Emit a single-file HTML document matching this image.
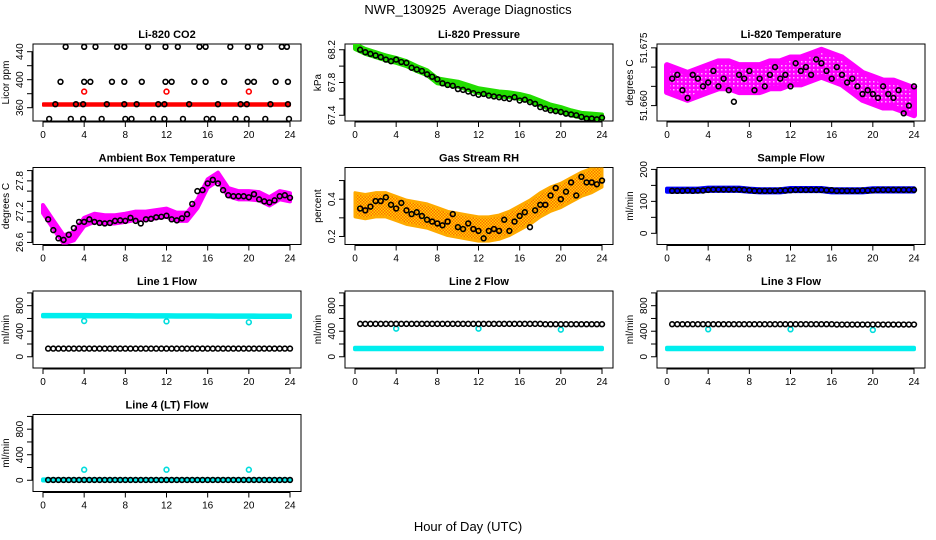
<!DOCTYPE html>
<html><head><meta charset="utf-8">
<style>
html,body{margin:0;padding:0;background:#fff;}
svg{display:block;font-family:"Liberation Sans",sans-serif;}
</style></head>
<body>
<svg id="chart" width="936" height="540" viewBox="0 0 936 540" xmlns="http://www.w3.org/2000/svg">
<text x="468" y="14" text-anchor="middle" font-size="13" style="white-space:pre">NWR_130925&#160; Average Diagnostics</text>
<text x="468" y="531" text-anchor="middle" font-size="13">Hour of Day (UTC)</text>
</svg>
<script>
// ---------- data ----------
const hours48 = [0.5,1,1.5,2,2.5,3,3.5,4,4.5,5,5.5,6,6.5,7,7.5,8,8.5,9,9.5,10,10.5,11,11.5,12,12.5,13,13.5,14,14.5,15,15.5,16,16.5,17,17.5,18,18.5,19,19.5,20,20.5,21,21.5,22,22.5,23,23.5,24];
const hours25 = [0,1,2,3,4,5,6,7,8,9,10,11,12,13,14,15,16,17,18,19,20,21,22,23,24];
const xTicks = [0,4,8,12,16,20,24];
const outlierHours = [4,12,20];

// CO2
const co2BandHours = [0,24];
const co2BandMid = [364.5,364.5];
const co2Spread = 1.8;
const co2RedOutliers = [383,383,383];
const co2Hours447 = [2.2,4.0,5.1,7.2,7.9,10.2,11.9,13.1,15.2,15.8,18.2,19.9,21.1,23.2,23.7];
const co2Hours397 = [1.7,4.0,4.6,6.7,7.9,9.6,11.9,12.5,14.7,15.8,17.6,19.9,20.5,22.6,23.8];
const co2Hours365 = [1.2,3.2,3.9,6.2,7.9,9.1,11.2,11.8,14.2,17.0,19.2,19.8,22.1,23.8];
const co2Hours344 = [0.6,2.7,3.9,5.7,8.0,8.6,10.7,11.8,13.6,15.9,16.5,18.7,19.8,21.6,23.9];
const co2Levels = [447,397,365,344];

// Pressure
const pressMid = [68.24,68.18,68.14,68.10,68.07,68.03,67.97,67.92,67.82,67.80,67.78,67.74,67.70,67.68,67.66,67.65,67.63,67.60,67.55,67.50,67.47,67.43,67.40,67.39,67.38];
const pressSpread = 0.03;
const pressBlack = [68.20,68.17,68.15,68.13,68.11,68.08,68.06,68.08,68.05,68.04,67.98,67.96,67.94,67.90,67.87,67.84,67.79,67.77,67.76,67.72,67.71,67.69,67.67,67.65,67.66,67.64,67.63,67.62,67.61,67.60,67.62,67.58,67.59,67.56,67.54,67.50,67.48,67.46,67.45,67.44,67.42,67.41,67.40,67.38,67.36,67.36,67.35,67.37];

// Li-820 temperature
const tempMid = [51.667,51.666,51.665,51.666,51.667,51.668,51.668,51.667,51.667,51.667,51.668,51.668,51.669,51.669,51.670,51.671,51.670,51.669,51.667,51.665,51.664,51.663,51.663,51.662,51.661];
const tempSpread = 0.0035;
const tempBlack = [51.667,51.668,51.664,51.662,51.668,51.667,51.665,51.666,51.669,51.665,51.667,51.664,51.661,51.668,51.667,51.669,51.664,51.667,51.665,51.668,51.670,51.667,51.668,51.665,51.671,51.669,51.670,51.668,51.672,51.671,51.669,51.667,51.670,51.668,51.666,51.667,51.665,51.663,51.664,51.663,51.662,51.665,51.663,51.662,51.664,51.658,51.660,51.665];

// Ambient box temperature
const ambMid = [27.25,26.95,26.66,26.72,27.0,27.08,27.05,27.05,27.08,27.12,27.12,27.15,27.18,27.10,27.10,27.35,27.75,27.88,27.58,27.52,27.52,27.50,27.40,27.52,27.48];
const ambSpread = 0.08;
const ambBlack = [27.05,26.84,26.68,26.65,26.75,26.88,27.0,27.0,27.05,27.0,26.98,26.97,26.98,27.02,27.03,27.02,27.08,27.02,26.97,27.05,27.06,27.09,27.10,27.12,27.05,27.03,27.07,27.15,27.35,27.6,27.62,27.75,27.82,27.75,27.62,27.52,27.50,27.50,27.50,27.48,27.54,27.44,27.40,27.38,27.42,27.5,27.52,27.47];

// Gas stream RH
const rhMid = [0.37,0.36,0.37,0.37,0.35,0.33,0.32,0.31,0.29,0.27,0.26,0.25,0.24,0.24,0.25,0.27,0.30,0.33,0.37,0.40,0.42,0.45,0.48,0.50,0.53];
const rhSpread = 0.065;
const rhBlack = [0.35,0.34,0.36,0.39,0.39,0.41,0.37,0.35,0.38,0.34,0.32,0.33,0.31,0.29,0.28,0.27,0.26,0.28,0.32,0.25,0.24,0.27,0.24,0.23,0.19,0.23,0.24,0.23,0.29,0.23,0.28,0.31,0.33,0.25,0.34,0.37,0.37,0.42,0.46,0.40,0.44,0.49,0.42,0.52,0.49,0.49,0.48,0.50];

// Sample flow
const sampleMid = [135,135,135,135,138,138,138,138,135,133,133,133,137,137,137,137,133,133,133,133,136,136,136,136,136];
const sampleSpread = 5;
const sampleBlack = [133,133,133,134,133,134,134,136,137,137,137,137,137,137,136,135,133,133,133,133,133,134,134,135,136,136,136,136,136,136,135,135,133,133,133,133,133,134,134,135,136,136,136,136,136,136,136,136];

// Line flows
const line1Cyan = [645,645,644,644,644,643,643,642,642,641,641,640,640,639,639,638,638,637,637,636,636,635,635,634,634];
const line1Black = [128,128,128,128,128,128,128,128,128,128,128,128,128,128,128,128,128,128,128,128,128,128,128,128,128,128,128,128,128,128,128,128,128,128,128,128,128,128,128,128,128,128,128,128,128,128,128,128];
const line1Outliers = [560,555,540];

const line2Cyan = [130,130,130,130,130,130,130,130,130,130,130,130,130,130,130,130,130,130,130,130,130,130,130,130,130];
const line2Black = [515,515,515,515,515,515,515,515,515,515,515,515,515,515,515,515,515,515,515,515,515,515,515,515,515,515,515,515,515,515,515,515,515,515,515,515,510,510,510,510,510,510,510,510,510,510,510,510];
const line2Outliers = [440,440,425];

const line3Cyan = [130,130,130,130,130,130,130,130,130,130,130,130,130,130,130,130,130,130,130,130,130,130,130,130,130];
const line3Black = [510,510,510,510,510,510,510,510,510,510,510,510,510,510,510,510,510,510,510,510,510,510,510,510,510,510,510,510,510,510,510,510,505,505,505,505,505,505,505,505,505,505,505,505,505,505,505,505];
const line3Outliers = [430,430,420];

const line4Cyan = [5,5,5,5,5,5,5,5,5,5,5,5,5,5,5,5,5,5,5,5,5,5,5,5,5];
const line4Black = [5,5,5,5,5,5,5,5,5,5,5,5,5,5,5,5,5,5,5,5,5,5,5,5,5,5,5,5,5,5,5,5,5,5,5,5,5,5,5,5,5,5,5,5,5,5,5,5];
const line4Outliers = [165,165,165];

// ---------- drawing ----------
const NS = "http://www.w3.org/2000/svg";
const svg = document.getElementById('chart');
function mk(tag, attrs, parent){
  const e = document.createElementNS(NS, tag);
  for (const k in attrs) e.setAttribute(k, attrs[k]);
  (parent||svg).appendChild(e);
  return e;
}
const BOXW = 268, BOXH = 77;
function panel(col, row, title, ylab, ymin, ymax, yTicks, yLabels){
  const L = 33 + col*312, T = 44 + row*123.5;
  const g = mk('g', {});
  
  
  const xs = h => L + 10 + h * (247/24);
  const ys = v => T + BOXH - (v - ymin) / (ymax - ymin) * BOXH;
  const t = mk('text', {x: L + BOXW/2, y: T - 6, 'text-anchor':'middle', 'font-size':11, 'font-weight':'bold'}, g);
  t.textContent = title;
  
  
  const box = mk('rect', {x:L, y:T, width:BOXW, height:BOXH, fill:'none', stroke:'#000', 'stroke-width':1}, g);
  
  
  const xa = mk('g', {}, g);
  
  
  mk('line', {x1:xs(0), x2:xs(24), y1:T+BOXH+1, y2:T+BOXH+1, stroke:'#000'}, xa);
  xTicks.forEach(h => {
    mk('line', {x1:xs(h), x2:xs(h), y1:T+BOXH, y2:T+BOXH+6, stroke:'#000'}, xa);
    const lt = mk('text', {x:xs(h), y:T+BOXH+17, 'text-anchor':'middle', 'font-size':10}, xa);
    lt.textContent = h;
    
    
  });
  const ya = mk('g', {}, g);
  
  
  mk('line', {x1:L-1, x2:L-1, y1:ys(yTicks[0]), y2:ys(yTicks[yTicks.length-1]), stroke:'#000'}, ya);
  yTicks.forEach(v => {
    mk('line', {x1:L-6, x2:L, y1:ys(v), y2:ys(v), stroke:'#000'}, ya);
  });
  yLabels.forEach(v => {
    const yy = ys(v);
    const lt = mk('text', {x:L-10, y:yy, 'text-anchor':'middle', 'font-size':10, transform:`rotate(-90 ${L-10} ${yy})`}, ya);
    lt.textContent = v;
    
    
  });
  const yt = mk('text', {x:L-24, y:T+BOXH/2, 'text-anchor':'middle', 'font-size':10, transform:`rotate(-90 ${L-24} ${T+BOXH/2})`}, g);
  yt.textContent = ylab;
  
  
  const clip = 'clip' + col + row;
  const cp = mk('clipPath', {id:clip}, g);
  mk('rect', {x:L, y:T, width:BOXW, height:BOXH}, cp);
  const plot = mk('g', {'clip-path':`url(#${clip})`}, g);
  return {xs, ys, plot};
}
function band(p, hrs, mids, spread, color, name, extra){
  let d = '';
  hrs.forEach((h,i) => { d += (i ? 'L' : 'M') + p.xs(h) + ',' + p.ys(mids[i] + spread); });
  for (let i = hrs.length-1; i >= 0; i--) d += 'L' + p.xs(hrs[i]) + ',' + p.ys(mids[i] - spread);
  d += 'Z';
  const e = mk('path', Object.assign({d:d, fill:color, stroke:color, 'stroke-width':4, 'stroke-linejoin':'round'}, extra||{}), p.plot);
  
  
}
function pts(p, hrs, vals, color, name, r){
  hrs.forEach((h,i) => {
    const c = mk('circle', {cx:p.xs(h), cy:p.ys(vals[i]), r:r||2.4, fill:'none', stroke:color, 'stroke-width':1.6}, p.plot);
    
    
  });
}

// patterns
const defs = mk('defs', {});
const pat = mk('pattern', {id:'rhpat', width:3, height:3, patternUnits:'userSpaceOnUse'}, defs);
mk('rect', {width:3, height:3, fill:'#ffd400'}, pat);
mk('rect', {x:0, y:0, width:1.5, height:1.5, fill:'#ff6a00'}, pat);
mk('rect', {x:1.5, y:1.5, width:1.5, height:1.5, fill:'#ff6a00'}, pat);
const mpat = mk('pattern', {id:'magpat', width:4, height:4, patternUnits:'userSpaceOnUse'}, defs);
mk('rect', {width:4, height:4, fill:'#ff00ff'}, mpat);
mk('rect', {x:1, y:1, width:1.5, height:1.5, fill:'#ffb0ff'}, mpat);

// Panel 1: CO2
let p = panel(0,0,'Li-820 CO2','Licor ppm',341,451,[360,380,400,420,440],[360,400,440]);
band(p, co2BandHours, co2BandMid, co2Spread, '#ff0000', 'co2-band', {'stroke-width':2});
pts(p, outlierHours, co2RedOutliers, '#ff0000', 'co2-red-outlier');
pts(p, co2Hours447, co2Hours447.map(()=>co2Levels[0]), '#000', 'co2-point');
pts(p, co2Hours397, co2Hours397.map(()=>co2Levels[1]), '#000', 'co2-point');
pts(p, co2Hours365, co2Hours365.map(()=>co2Levels[2]), '#000', 'co2-point');
pts(p, co2Hours344, co2Hours344.map(()=>co2Levels[3]), '#000', 'co2-point');

// Panel 2: Pressure
p = panel(1,0,'Li-820 Pressure','kPa',67.33,68.27,[67.4,67.6,67.8,68.0,68.2],[67.4,67.8,68.2]);
band(p, hours25, pressMid, pressSpread, '#22dd00', 'pressure-band');
pts(p, hours48, pressBlack, '#000', 'pressure-point');

// Panel 3: Li-820 Temperature
p = panel(2,0,'Li-820 Temperature','degrees C',51.656,51.676,[51.660,51.665,51.670,51.675],['51.660','51.675']);
band(p, hours25, tempMid, tempSpread, 'url(#magpat)', 'temperature-band', {stroke:'#ff00ff','stroke-width':6});
pts(p, hours48, tempBlack, '#000', 'temperature-point');

// Panel 4: Ambient
p = panel(0,1,'Ambient Box Temperature','degrees C',26.56,28.06,[26.6,26.8,27.0,27.2,27.4,27.6,27.8,28.0],['26.6','27.2','27.8']);
band(p, hours25, ambMid, ambSpread, '#ff00ff', 'ambient-band');
pts(p, hours48, ambBlack, '#000', 'ambient-point');

// Panel 5: RH
p = panel(1,1,'Gas Stream RH','percent',0.157,0.57,[0.2,0.3,0.4,0.5],['0.2','0.4']);
band(p, hours25, rhMid, rhSpread, 'url(#rhpat)', 'rh-band', {stroke:'#ffaa00','stroke-width':3});
pts(p, hours48, rhBlack, '#000', 'rh-point');

// Panel 6: Sample flow
p = panel(2,1,'Sample Flow','ml/min',-35,206,[0,50,100,150,200],[0,100,200]);
band(p, hours25, sampleMid, sampleSpread, '#0000ff', 'sample-band');
pts(p, hours48, sampleBlack, '#000', 'sample-point');

// Flow panels
const flowTicks = [0,200,400,600,800,1000], flowLabels = [0,400,800];
p = panel(0,2,'Line 1 Flow','ml/min',-176,1030,flowTicks,flowLabels);
band(p, hours25, line1Cyan, 12, '#00eeee', 'line1-cyan-band');
pts(p, outlierHours, line1Outliers, '#00dddd', 'line1-outlier');
pts(p, hours48, line1Black, '#000', 'line1-point');

p = panel(1,2,'Line 2 Flow','ml/min',-176,1030,flowTicks,flowLabels);
band(p, hours25, line2Cyan, 12, '#00eeee', 'line2-cyan-band');
pts(p, outlierHours, line2Outliers, '#00dddd', 'line2-outlier');
pts(p, hours48, line2Black, '#000', 'line2-point');

p = panel(2,2,'Line 3 Flow','ml/min',-176,1030,flowTicks,flowLabels);
band(p, hours25, line3Cyan, 12, '#00eeee', 'line3-cyan-band');
pts(p, outlierHours, line3Outliers, '#00dddd', 'line3-outlier');
pts(p, hours48, line3Black, '#000', 'line3-point');

p = panel(0,3,'Line 4 (LT) Flow','ml/min',-176,1030,flowTicks,flowLabels);
band(p, hours25, line4Cyan, 8, '#00eeee', 'line4-cyan-band');
pts(p, outlierHours, line4Outliers, '#00dddd', 'line4-outlier');
pts(p, hours48, line4Black, '#000', 'line4-point');
</script>
</body></html>
